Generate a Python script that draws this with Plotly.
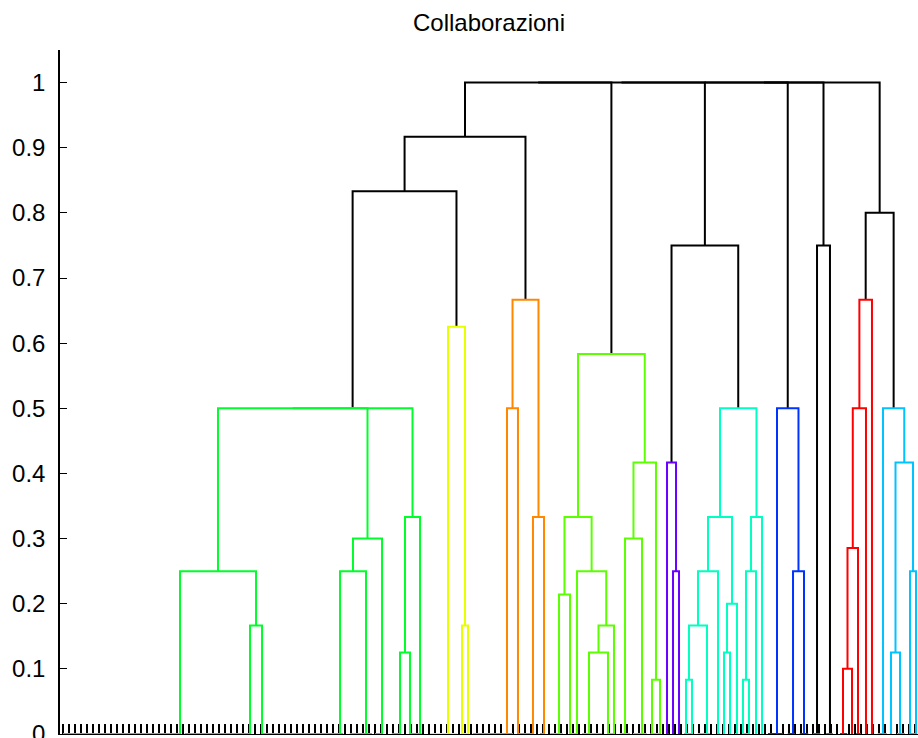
import plotly.graph_objects as go

# ---------------- data ----------------
TITLE = "Collaborazioni"
N_LEAVES = 143
leaf_ids = list(range(1, N_LEAVES + 1))
y_ticks = [0, 0.1, 0.2, 0.3, 0.4, 0.5, 0.6, 0.7, 0.8, 0.9, 1]
y_tick_labels = ["0", "0.1", "0.2", "0.3", "0.4", "0.5", "0.6", "0.7", "0.8", "0.9", "1"]

# cluster colours
colors = {
    "green": "#00FF2A",
    "yellow": "#E8FF00",
    "orange": "#FF8800",
    "lime": "#5CFF00",
    "purple": "#6A00FF",
    "aqua": "#00FFC0",
    "blue": "#0033FF",
    "magenta": "#FF00CC",
    "red": "#FF0000",
    "sky": "#00C4FF",
    "black": "#000000",
}

# links: left x, right x, height, left-leg bottom, right-leg bottom, colour
link_xl = []
link_xr = []
link_h = []
link_hl = []
link_hr = []
link_c = []

def add(xl, xr, h, hl, hr, c):
    link_xl.append(xl); link_xr.append(xr); link_h.append(h)
    link_hl.append(hl); link_hr.append(hr); link_c.append(c)

# green cluster
add(20.5, 33.17, 0.25, 0, 0.1667, "green")
add(32.17, 34.17, 0.1667, 0, 0, "green")
add(47.17, 51.5, 0.25, 0, 0, "green")
add(49.33, 54.17, 0.30, 0.25, 0, "green")
add(57.17, 58.83, 0.125, 0, 0, "green")
add(58.0, 60.5, 0.3333, 0.125, 0, "green")
add(26.83, 51.75, 0.5, 0.25, 0.30, "green")
add(39.29, 59.25, 0.5, 0.5, 0.3333, "green")
# yellow
add(67.5, 68.5, 0.1667, 0, 0, "yellow")
add(65.17, 68.0, 0.625, 0, 0.1667, "yellow")
# black
add(49.27, 66.58, 0.8333, 0.5, 0.625, "black")
# orange
add(75.0, 76.83, 0.5, 0, 0, "orange")
add(79.33, 81.17, 0.3333, 0, 0, "orange")
add(75.92, 80.25, 0.6667, 0.5, 0.3333, "orange")
add(57.93, 78.08, 0.9167, 0.8333, 0.6667, "black")
# lime
add(83.67, 85.5, 0.2143, 0, 0, "lime")
add(88.67, 91.83, 0.125, 0, 0, "lime")
add(90.25, 92.83, 0.1667, 0.125, 0, "lime")
add(86.67, 91.54, 0.25, 0, 0.1667, "lime")
add(84.58, 89.1, 0.3333, 0.2143, 0.25, "lime")
add(94.67, 97.5, 0.30, 0, 0, "lime")
add(99.17, 100.5, 0.0833, 0, 0, "lime")
add(96.08, 99.83, 0.4167, 0.30, 0.0833, "lime")
add(86.84, 97.96, 0.5833, 0.3333, 0.4167, "lime")
# purple
add(102.67, 103.67, 0.25, 0, 0, "purple")
add(101.67, 103.17, 0.4167, 0, 0.25, "purple")
# aqua
add(104.83, 105.83, 0.0833, 0, 0, "aqua")
add(105.33, 108.33, 0.1667, 0.0833, 0, "aqua")
add(106.83, 110.17, 0.25, 0.1667, 0, "aqua")
add(111.17, 112.17, 0.125, 0, 0, "aqua")
add(111.67, 113.33, 0.2, 0.125, 0, "aqua")
add(108.5, 112.5, 0.3333, 0.25, 0.2, "aqua")
add(114.33, 115.33, 0.0833, 0, 0, "aqua")
add(114.83, 116.5, 0.25, 0.0833, 0, "aqua")
add(115.67, 117.5, 0.3333, 0.25, 0, "aqua")
add(110.5, 116.58, 0.5, 0.3333, 0.3333, "aqua")
add(102.42, 113.54, 0.75, 0.4167, 0.5, "black")
# blue
add(122.67, 124.5, 0.25, 0, 0, "blue")
add(120.0, 123.58, 0.5, 0, 0.25, "blue")
# black pair
add(126.67, 128.83, 0.75, 0, 0, "black")
# red
add(131.0, 132.5, 0.10, 0, 0, "red")
add(131.75, 133.5, 0.2857, 0.10, 0, "red")
add(132.63, 134.83, 0.5, 0.2857, 0, "red")
add(133.73, 135.83, 0.6667, 0.5, 0, "red")
# sky
add(139.0, 140.5, 0.125, 0, 0, "sky")
add(142.17, 143.17, 0.25, 0, 0, "sky")
add(139.75, 142.67, 0.4167, 0.125, 0.25, "sky")
add(137.67, 141.21, 0.5, 0, 0.4167, "sky")
add(134.78, 139.44, 0.8, 0.6667, 0.5, "black")
# top merges at height 1
add(68.0, 92.4, 1.0, 0.9167, 0.5833, "black")
add(80.2, 107.98, 1.0, 1.0, 0.75, "black")
add(94.09, 121.79, 1.0, 1.0, 0.5, "black")
add(107.94, 127.75, 1.0, 1.0, 0.75, "black")
add(117.85, 137.11, 1.0, 1.0, 0.8, "black")

# zero-height merges drawn along the baseline: start leaf, end leaf, colour
base_start = [1.0, 21.3, 34.3, 48.8, 53.0, 55.8, 58.8,
              62.2, 67.5,
              69.3, 76.8, 80.5,
              82.2, 85.5, 87.5, 91.7, 93.8, 96.0, 98.9,
              101.5, 104.5, 106.8, 110.0, 113.0, 114.2,
              118.5, 121.8, 123.8,
              126.0, 128.2,
              130.5, 133.2,
              136.8, 140.0, 142.0]
base_end = [20.5, 32.2, 47.7, 52.5, 54.3, 57.2, 60.8,
            66.7, 68.5,
            76.0, 79.3, 81.3,
            84.3, 86.7, 90.8, 92.9, 95.5, 98.3, 100.6,
            102.0, 105.9, 108.8, 110.5, 113.5, 115.5,
            121.0, 123.0, 125.2,
            127.2, 129.3,
            131.7, 134.0,
            138.3, 141.3, 143.2]
base_color = ["green"] * 7 + ["yellow"] * 2 + ["orange"] * 3 + ["lime"] * 7 + \
             ["purple", "aqua", "aqua", "aqua", "aqua", "aqua"] + ["blue"] * 3 + \
             ["magenta"] * 2 + ["red"] * 2 + ["sky"] * 3

# ---------------- figure ----------------
fig = go.Figure()

# group segments per colour
segs = {}
for xl, xr, h, hl, hr, c in zip(link_xl, link_xr, link_h, link_hl, link_hr, link_c):
    xs, ys = segs.setdefault(c, ([], []))
    xs += [xl, xl, xr, xr, None]
    ys += [hl, h, h, hr, None]
for s, e, c in zip(base_start, base_end, base_color):
    xs, ys = segs.setdefault(c, ([], []))
    xs += [s, e, None]
    ys += [0, 0, None]

order = ["black", "green", "yellow", "orange", "lime", "purple", "aqua",
         "blue", "magenta", "red", "sky"]
for c in order:
    if c not in segs:
        continue
    xs, ys = segs[c]
    fig.add_trace(go.Scatter(
        x=xs, y=ys, mode="lines",
        line=dict(color=colors[c], width=2),
        hoverinfo="skip", showlegend=False, cliponaxis=False,
    ))

fig.update_layout(
    width=918, height=738,
    margin=dict(l=60, r=0, t=50, b=4, autoexpand=False),
    paper_bgcolor="white", plot_bgcolor="white",
    font=dict(family="Liberation Sans, Arial, sans-serif", size=24, color="black"),
    title=dict(text=TITLE, x=0.5, xref="paper", xanchor="center",
               y=1 - 23 / 738, yref="container", yanchor="middle",
               font=dict(size=24, color="black")),
    showlegend=False,
)
fig.update_xaxes(
    range=[0.5, N_LEAVES + 0.5], showgrid=False, zeroline=False,
    showline=True, linecolor="black", linewidth=1,
    ticks="inside", ticklen=10, tickwidth=2, tickcolor="black",
    tickvals=leaf_ids, showticklabels=False, layer="below traces",
    automargin=False,
)
fig.update_yaxes(
    range=[0, 1.05], showgrid=False, zeroline=False,
    showline=True, linecolor="black", linewidth=1.5,
    ticks="inside", ticklen=7, tickwidth=1, tickcolor="black",
    tickvals=y_ticks, ticktext=y_tick_labels, ticklabelstandoff=8,
    ticklabeloverflow="allow", automargin=False,
    tickfont=dict(size=24), layer="below traces",
)

fig.write_html("out.html")
